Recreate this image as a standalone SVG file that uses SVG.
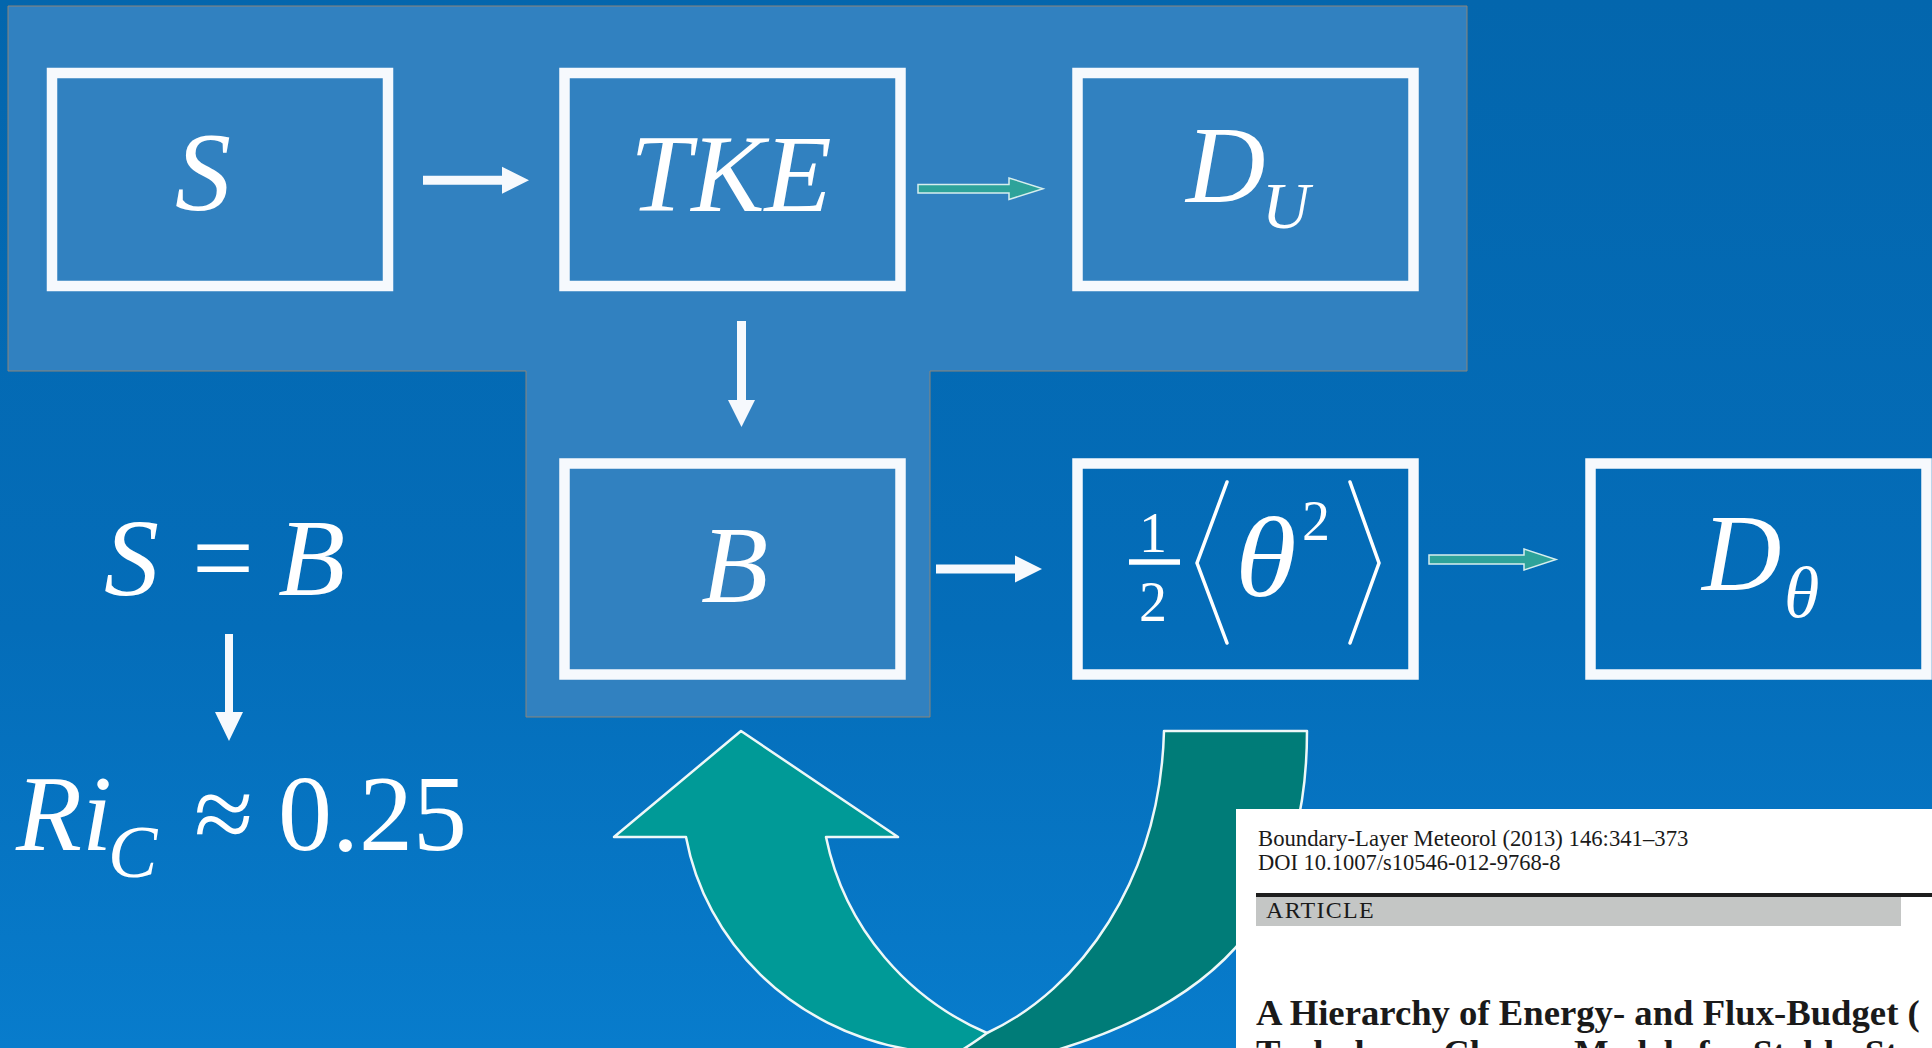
<svg xmlns="http://www.w3.org/2000/svg" width="1932" height="1048" viewBox="0 0 1932 1048">
<defs>
<linearGradient id="bg" x1="0" y1="0" x2="0" y2="1">
<stop offset="0" stop-color="#0366ad"/>
<stop offset="0.6" stop-color="#046db9"/>
<stop offset="1" stop-color="#087ccc"/>
</linearGradient>
<style>
.box{fill:none;stroke:#f6f9fd;stroke-width:10.5}
.math{font-family:"Liberation Serif","Times New Roman",serif;fill:#ffffff;font-style:italic}
.up{font-style:normal}
.warr{fill:#f6f9fd}
.tarr{fill:#2ea39a;stroke:#d6eeee;stroke-width:1.5}
.delim{fill:none;stroke:#ffffff;stroke-width:3.5;stroke-linecap:round;stroke-linejoin:miter}
.band{stroke:#eef8f8;stroke-width:2.5;stroke-linejoin:round}
.paper{font-family:"Liberation Serif","Times New Roman",serif;fill:#1a1a1a}
</style>
</defs>
<rect width="1932" height="1048" fill="url(#bg)"/>
<path id="panel" d="M8,6 H1467 V371 H930 V717 H526 V371 H8 Z" fill="#3181c0" stroke="#8c8478" stroke-width="1"/>

<g id="node-S">
<rect class="box" x="52" y="73" width="336" height="213"/>
<text class="math" x="175" y="210" font-size="112">S</text>
</g>
<g id="node-TKE">
<rect class="box" x="564.5" y="73" width="336" height="213"/>
<text class="math" x="630" y="211" font-size="110">TKE</text>
</g>
<g id="node-DU">
<rect class="box" x="1077.5" y="73" width="336" height="213"/>
<text class="math" x="1186" y="202" font-size="110">D</text>
<text class="math" x="1262" y="228" font-size="66">U</text>
</g>
<g id="node-B">
<rect class="box" x="564.5" y="463.5" width="336" height="211"/>
<text class="math" x="701" y="602" font-size="110">B</text>
</g>
<g id="node-theta2">
<rect class="box" x="1077.5" y="463.5" width="336" height="211"/>
<text class="math up" x="1153" y="552" font-size="56" text-anchor="middle">1</text>
<line x1="1129" y1="562" x2="1180" y2="562" stroke="#ffffff" stroke-width="5.5"/>
<text class="math up" x="1153" y="621" font-size="56" text-anchor="middle">2</text>
<polyline class="delim" points="1227,482 1197,563 1227,643"/>
<text class="math" transform="translate(1235,596) scale(1.1,1)" x="0" y="0" font-size="114">θ</text>
<text class="math up" x="1302" y="540" font-size="56">2</text>
<polyline class="delim" points="1350,482 1379,563 1350,643"/>
</g>
<g id="node-Dtheta">
<rect class="box" x="1590.5" y="463.5" width="336" height="211"/>
<text class="math" x="1702" y="590" font-size="110">D</text>
<text class="math" x="1784" y="617" font-size="72">θ</text>
</g>
<g id="node-SeqB">
<text class="math" x="104" y="595" font-size="110">S</text>
<text class="math up" x="192" y="595" font-size="110">=</text>
<text class="math" x="278" y="595" font-size="110">B</text>
</g>
<g id="node-Ric">
<text class="math" x="16" y="850" font-size="108">Ri</text>
<text class="math" x="108" y="877" font-size="74">C</text>
<text class="math up" x="194" y="850" font-size="108">≈</text>
<text class="math up" x="278" y="850" font-size="108">0.25</text>
</g>

<g id="connectors">
<polygon class="warr" points="423,175.8 502,175.8 502,166.8 529,180.3 502,193.8 502,184.8 423,184.8"/>
<polygon class="tarr" points="918,184.5 1009,184.5 1009,178 1043,188.7 1009,199.5 1009,193 918,193"/>
<polygon class="warr" points="737,321 746,321 746,400 755,400 741.5,427 728,400 737,400"/>
<polygon class="warr" points="936,564.5 1015,564.5 1015,555.5 1042,569 1015,582.5 1015,573.5 936,573.5"/>
<polygon class="tarr" points="1429,555 1524,555 1524,549 1556,559.5 1524,570 1524,564 1429,564"/>
<polygon class="warr" points="225,634 233,634 233,712 243,712 229,741 215,712 225,712"/>
<path id="feedback-up" class="band" fill="#009a97" d="M741,731 L898,837 L826,837 C845,930 910,1000 987,1033 L1000,1075 L935,1075 L912,1050 C790,1030 705,940 686,837 L614,837 Z"/>
<path id="feedback-down" class="band" fill="#007c78" d="M1164,731 H1307 C1307,900 1230,1000 1050,1052 L1000,1075 L920,1075 C950,1058 975,1042 987,1033 C1080,990 1160,880 1164,731 Z"/>
</g>

<g id="paper">
<rect x="1236" y="809" width="700" height="245" fill="#ffffff"/>
<text class="paper" x="1258" y="846" font-size="22.7">Boundary-Layer Meteorol (2013) 146:341–373</text>
<text class="paper" x="1258" y="870" font-size="22.5">DOI 10.1007/s10546-012-9768-8</text>
<rect x="1256" y="893" width="676" height="4" fill="#1e1e1e"/>
<rect x="1256" y="897" width="645" height="29" fill="#c4c6c5"/>
<text class="paper" x="1266" y="918" font-size="24" letter-spacing="1.3">ARTICLE</text>
<text class="paper" x="1256" y="1025" font-size="36.7" font-weight="bold">A Hierarchy of Energy- and Flux-Budget (</text>
<text class="paper" x="1256" y="1065" font-size="36.7" font-weight="bold">Turbulence Closure Models for Stably-St</text>
</g>
</svg>
